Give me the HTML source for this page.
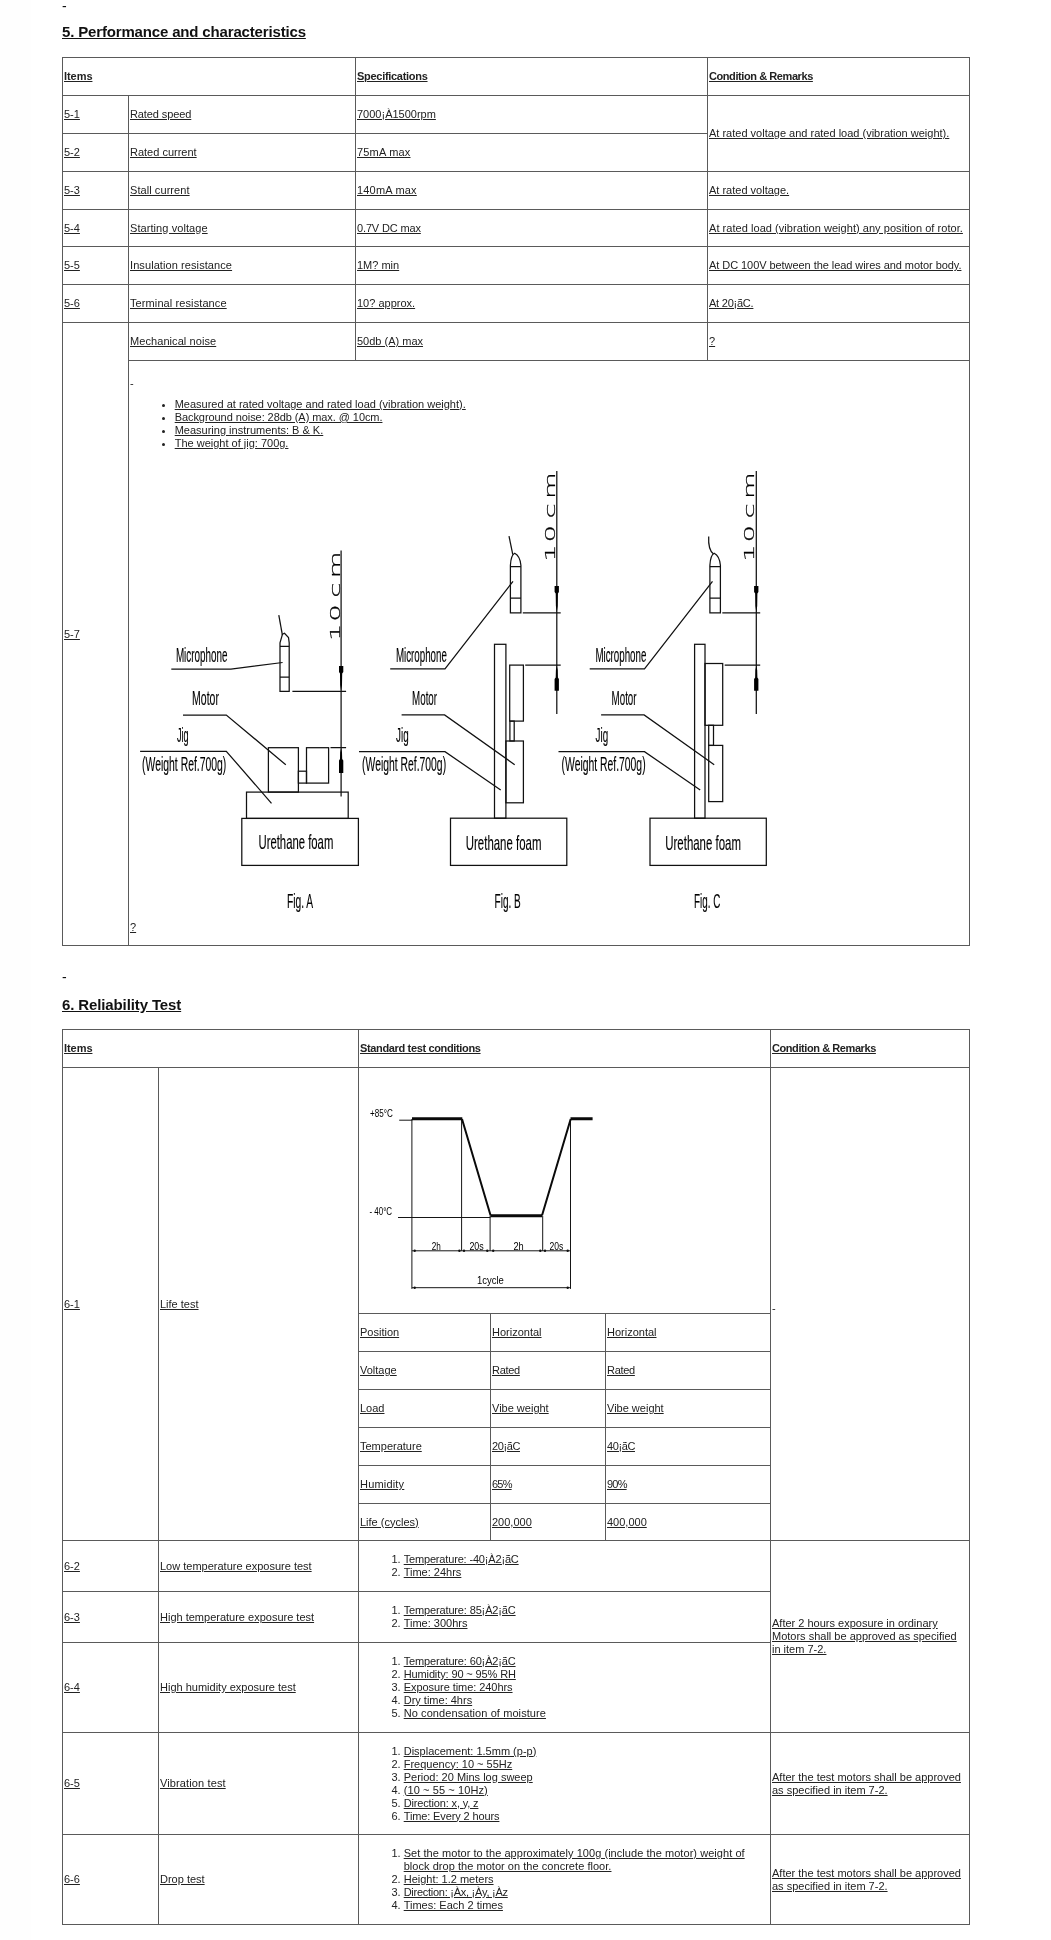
<!DOCTYPE html>
<html lang="en">
<head>
<meta charset="utf-8">
<title>Performance and characteristics</title>
<style>
html,body{margin:0;padding:0;}
body{width:1051px;height:1940px;background:#fefefe;position:relative;overflow:hidden;
 font-family:"Liberation Sans",sans-serif;font-size:11px;color:#222;line-height:13px;}
#page{position:absolute;left:31px;top:0;width:1019px;height:1940px;background:#fff;}
.abs{position:absolute;}
u,.u{text-decoration:underline;}
h3{position:absolute;margin:0;left:62px;font-size:15px;line-height:18px;font-weight:bold;color:#111;text-decoration:underline;white-space:nowrap;}
.dash{position:absolute;left:62px;font-size:14px;line-height:16px;color:#111;}
table{position:absolute;left:62px;width:908px;border-collapse:collapse;table-layout:fixed;}
td,th{border:1px solid #5a5a5a;padding:0 1px;vertical-align:middle;text-align:left;font-weight:normal;overflow:hidden;}
th{font-weight:bold;}
tr.r38{height:38px;}
ol{margin:0;padding:0 0 0 43.7px;}
ul{margin:0;padding:0 0 0 44.7px;}
</style>
</head>
<body>
<div id="page"></div>
<div id="content" style="position:absolute;left:0;top:0;width:1051px;height:1940px;will-change:transform;">
<div class="dash" style="top:-2px;">-</div>
<h3 style="top:23px;letter-spacing:-0.16px;">5. Performance and characteristics</h3>

<table id="t1" style="top:57px;">
<colgroup><col style="width:66px"><col style="width:227px"><col style="width:352px"><col style="width:262px"></colgroup>
<tr class="r38"><th colspan="2"><u style="letter-spacing:-0.06px">Items</u></th><th><u style="letter-spacing:-0.29px">Specifications</u></th><th><u style="letter-spacing:-0.42px">Condition &amp; Remarks</u></th></tr>
<tr class="r38"><td><u>5-1</u></td><td><u style="letter-spacing:-0.1px">Rated speed</u></td><td><u>7000¡À1500rpm</u></td><td rowspan="2"><u>At rated voltage and rated load (vibration weight).</u></td></tr>
<tr class="r38"><td><u>5-2</u></td><td><u>Rated current</u></td><td><u style="letter-spacing:0.19px">75mA max</u></td></tr>
<tr class="r38"><td><u>5-3</u></td><td><u style="letter-spacing:0.07px">Stall current</u></td><td><u style="letter-spacing:0.19px">140mA max</u></td><td><u>At rated voltage.</u></td></tr>
<tr style="height:37px;"><td><u>5-4</u></td><td><u style="letter-spacing:0.075px">Starting voltage</u></td><td><u style="letter-spacing:-0.145px">0.7V DC max</u></td><td><u style="letter-spacing:0.047px">At rated load (vibration weight) any position of rotor.</u></td></tr>
<tr class="r38"><td><u>5-5</u></td><td><u style="letter-spacing:0.085px">Insulation resistance</u></td><td><u>1M? min</u></td><td><u style="letter-spacing:-0.06px">At DC 100V between the lead wires and motor body.</u></td></tr>
<tr class="r38"><td><u>5-6</u></td><td><u style="letter-spacing:0.1px">Terminal resistance</u></td><td><u>10? approx.</u></td><td><u style="letter-spacing:-0.23px">At 20¡ãC.</u></td></tr>
<tr class="r38"><td rowspan="2"><u>5-7</u></td><td><u style="letter-spacing:0.075px">Mechanical noise</u></td><td><u>50db (A) max</u></td><td><u>?</u></td></tr>
<tr style="height:585px;"><td colspan="3" style="vertical-align:top;position:relative;">
<div id="c57" style="position:relative;height:584px;">
<div class="abs" style="left:0;top:16px;">-</div>
<ul class="abs" style="left:0;top:36.7px;white-space:nowrap;">
<li><u>Measured at rated voltage and rated load (vibration weight).</u></li>
<li><u style="letter-spacing:-0.07px">Background noise: 28db (A) max. @ 10cm.</u></li>
<li><u>Measuring instruments: B &amp; K.</u></li>
<li><u>The weight of jig: 700g.</u></li>
</ul>
<!--FIGS-START-->
<svg class="abs" style="left:0;top:1px;overflow:visible" width="839" height="583" viewBox="130 362 839 583">
<defs>
<g id="figBC" fill="none" stroke="#111" stroke-width="1.25">
<line x1="556.8" y1="471" x2="556.8" y2="714"/>
<path d="M510.4 612.8V565.2Q511 555 514.7 553.3Q520 556 520.9 565.2V612.8Z"/>
<path d="M510.4 566.6H520.9M510.4 598.2H520.9"/>
<path d="M522.8 612.8H560.7M525.2 665.1H560.7"/>
<path d="M390.2 668.9H445L513 581.4"/>
<path d="M401.6 714.9H444.6L514.7 764.7"/>
<path d="M359 751.7H445L500.7 789.9"/>
<rect x="450.5" y="818.2" width="116.3" height="47.2"/>
<polygon points="554.6,586 558.9,586 558.9,592 557.9,593.5 557.7,606 556.8,612.5 555.9,606 555.7,593.5 554.6,592" fill="#000" stroke="none"/>
<polygon points="556.8,665.5 557.7,670 557.9,677.5 558.9,679 558.9,690.8 554.6,690.8 554.6,679 555.7,677.5 555.9,670" fill="#000" stroke="none"/>
</g>
</defs>
<g fill="none" stroke="#111" stroke-width="1.25">
<line x1="341.1" y1="550.5" x2="341.1" y2="796.4"/>
<path d="M280 691.3V642.8L282.5 634.2L284.5 633.3L288.5 637.5L289.2 642.8V691.3Z"/>
<path d="M280 646.4H289.2M280 677H289.2"/>
<path d="M278.8 615.2L282.4 635.1"/>
<path d="M292.4 691.3H346.1M330.5 747.7H346.1"/>
<path d="M171.3 669.1H230.9L282.6 662.5"/>
<path d="M183 715H226.3L285.8 764.8"/>
<path d="M140.1 751.3H226.3L271.5 803.3"/>
<rect x="268.4" y="747.7" width="30" height="44.4"/>
<rect x="298.4" y="771.2" width="8.1" height="11.9"/>
<rect x="306.5" y="747.7" width="22.1" height="35.4"/>
<rect x="246.5" y="792.1" width="101.7" height="26.3"/>
<rect x="241.8" y="818.4" width="116.6" height="47"/>
<polygon points="339,666 343.3,666 343.3,672 342.2,673.5 342,685 341.1,691 340.2,685 340,673.5 339,672" fill="#000" stroke="none"/>
<polygon points="341.1,748 342,752.5 342.2,759 343.3,760.5 343.3,773 339,773 339,760.5 340,759 340.2,752.5" fill="#000" stroke="none"/>
</g>
<use href="#figBC"/>
<g fill="none" stroke="#111" stroke-width="1.25">
<path d="M509 536.2L512.8 554.7"/>
<rect x="494.5" y="644.3" width="11.4" height="173.9"/>
<rect x="509.7" y="665.1" width="13.7" height="56"/>
<rect x="509.9" y="721.1" width="4.3" height="19.9"/>
<rect x="505.9" y="741" width="17.5" height="61.8"/>
</g>
<use href="#figBC" transform="translate(199.5 0)"/>
<g fill="none" stroke="#111" stroke-width="1.25">
<path d="M708.7 536.5C708.2 546 709.5 551 713.5 554"/>
<rect x="694.6" y="644.3" width="10.4" height="173.9"/>
<rect x="705" y="663.5" width="17.7" height="61.8"/>
<rect x="708.7" y="725.3" width="4.8" height="20.1"/>
<rect x="708.7" y="745.4" width="14" height="56.2"/>
</g>
<g font-family="'Liberation Sans',sans-serif" font-size="20.3" fill="#000" stroke="#000" stroke-width="0.15">
<text x="175.9" y="661.7" textLength="51.6" lengthAdjust="spacingAndGlyphs">Microphone</text>
<text x="192.1" y="705.1" textLength="26.8" lengthAdjust="spacingAndGlyphs">Motor</text>
<text x="177.0" y="742.2" textLength="11.7" lengthAdjust="spacingAndGlyphs">Jig</text>
<text x="142.1" y="771.3" textLength="84.2" lengthAdjust="spacingAndGlyphs">(Weight Ref.700g)</text>
<text x="258.5" y="849.0" textLength="74.8" lengthAdjust="spacingAndGlyphs">Urethane foam</text>
<text x="287.0" y="907.7" textLength="26.2" lengthAdjust="spacingAndGlyphs">Fig. A</text>
<text x="395.9" y="661.8" textLength="51.0" lengthAdjust="spacingAndGlyphs">Microphone</text>
<text x="412.1" y="704.9" textLength="24.9" lengthAdjust="spacingAndGlyphs">Motor</text>
<text x="396.1" y="742.3" textLength="12.6" lengthAdjust="spacingAndGlyphs">Jig</text>
<text x="362.1" y="771.4" textLength="84.0" lengthAdjust="spacingAndGlyphs">(Weight Ref.700g)</text>
<text x="465.8" y="849.5" textLength="75.6" lengthAdjust="spacingAndGlyphs">Urethane foam</text>
<text x="494.6" y="907.7" textLength="26.2" lengthAdjust="spacingAndGlyphs">Fig. B</text>
<text x="595.4" y="661.8" textLength="51.0" lengthAdjust="spacingAndGlyphs">Microphone</text>
<text x="611.6" y="704.9" textLength="24.9" lengthAdjust="spacingAndGlyphs">Motor</text>
<text x="595.6" y="742.3" textLength="12.6" lengthAdjust="spacingAndGlyphs">Jig</text>
<text x="561.6" y="771.4" textLength="84.0" lengthAdjust="spacingAndGlyphs">(Weight Ref.700g)</text>
<text x="665.3" y="849.5" textLength="75.6" lengthAdjust="spacingAndGlyphs">Urethane foam</text>
<text x="694.1" y="907.7" textLength="26.2" lengthAdjust="spacingAndGlyphs">Fig. C</text>
</g>
<g font-family="'DejaVu Sans Light','DejaVu Sans',sans-serif" font-weight="200" font-size="14.5" fill="#000" stroke="#000" stroke-width="0.25">
<text transform="translate(339.6 636.2) rotate(-90) scale(1.9 1)" x="-2.5 7.6 20.3 30.5">10cm</text>
<text transform="translate(554.8 557) rotate(-90) scale(1.9 1)" x="-2.5 7.6 20.3 30.5">10cm</text>
<text transform="translate(754.3 557) rotate(-90) scale(1.9 1)" x="-2.5 7.6 20.3 30.5">10cm</text>
</g>
</svg>
<!--FIGS-END-->
<div class="abs" style="left:0;top:559.5px;"><u>?</u></div>
</div>
</td></tr>
</table>

<div class="dash" style="top:969px;">-</div>
<h3 style="top:996px;letter-spacing:-0.12px;">6. Reliability Test</h3>

<table id="t2" style="top:1029px;">
<colgroup><col style="width:96px"><col style="width:200px"><col style="width:132px"><col style="width:115px"><col style="width:165px"><col style="width:199px"></colgroup>
<tr class="r38"><th colspan="2"><u style="letter-spacing:-0.06px">Items</u></th><th colspan="3"><u style="letter-spacing:-0.35px">Standard test conditions</u></th><th><u style="letter-spacing:-0.42px">Condition &amp; Remarks</u></th></tr>
<tr style="height:246px;"><td rowspan="7"><u>6-1</u></td><td rowspan="7"><u>Life test</u></td><td colspan="3" style="vertical-align:top;padding:0;"><div id="chart" style="position:relative;height:245px;"><!--CHART-START-->
<svg class="abs" style="left:0;top:0;overflow:visible" width="411" height="245" viewBox="359 1068 411 245">
<g fill="none" stroke="#151515" stroke-width="1">
<path d="M399.2 1120.2H412.3M398 1217.5H490.4"/>
<path d="M411.9 1119V1288.9M461.6 1119V1250.8M490.1 1216V1250.8M542.7 1216V1250.8M570.5 1119V1288.9"/>
<path d="M411.9 1250.8H570.5M411.9 1287.7H570.5"/>
</g>
<g fill="none" stroke="#0a0a0a">
<path d="M412 1118.8H462.3M570.5 1118.8H592.6M490.4 1215.8H542" stroke-width="2.9"/>
<path d="M462 1119L490.6 1215.5M542 1215.5L570.7 1119" stroke-width="2"/>
</g>
<g fill="#111" stroke="none">
<circle cx="414.7" cy="1250.8" r="1.2"/><circle cx="459.4" cy="1250.8" r="1.2"/><circle cx="464" cy="1250.8" r="1.2"/><circle cx="487.3" cy="1250.8" r="1.2"/>
<circle cx="493.2" cy="1250.8" r="1.2"/><circle cx="540.3" cy="1250.8" r="1.2"/><circle cx="545" cy="1250.8" r="1.2"/><circle cx="567.7" cy="1250.8" r="1.2"/>
<circle cx="414.7" cy="1287.7" r="1.2"/><circle cx="567.7" cy="1287.7" r="1.2"/>
</g>
<g font-family="'Liberation Sans',sans-serif" font-size="11" fill="#000" stroke="none">
<text x="370" y="1117.4" textLength="22.8" lengthAdjust="spacingAndGlyphs">+85°C</text>
<text x="369.5" y="1214.6" textLength="22.6" lengthAdjust="spacingAndGlyphs">- 40°C</text>
<text x="431.8" y="1249.6" textLength="9.1" lengthAdjust="spacingAndGlyphs">2h</text>
<text x="469.4" y="1249.6" textLength="14.3" lengthAdjust="spacingAndGlyphs">20s</text>
<text x="513.4" y="1249.6" textLength="10.3" lengthAdjust="spacingAndGlyphs">2h</text>
<text x="549.6" y="1249.6" textLength="13.8" lengthAdjust="spacingAndGlyphs">20s</text>
<text x="477" y="1283.5" textLength="26.9" lengthAdjust="spacingAndGlyphs">1cycle</text>
</g>
</svg>
<!--CHART-END--></div></td><td rowspan="7"><span style="position:relative;top:4px;">-</span></td></tr>
<tr class="r38"><td><u>Position</u></td><td><u>Horizontal</u></td><td><u>Horizontal</u></td></tr>
<tr class="r38"><td><u>Voltage</u></td><td><u style="letter-spacing:-0.3px">Rated</u></td><td><u style="letter-spacing:-0.3px">Rated</u></td></tr>
<tr class="r38"><td><u>Load</u></td><td><u>Vibe weight</u></td><td><u>Vibe weight</u></td></tr>
<tr class="r38"><td><u>Temperature</u></td><td><u style="letter-spacing:-0.4px">20¡ãC</u></td><td><u style="letter-spacing:-0.4px">40¡ãC</u></td></tr>
<tr class="r38"><td><u style="letter-spacing:0.19px">Humidity</u></td><td><u style="letter-spacing:-0.8px">65%</u></td><td><u style="letter-spacing:-0.8px">90%</u></td></tr>
<tr style="height:37px;"><td><u>Life (cycles)</u></td><td><u>200,000</u></td><td><u>400,000</u></td></tr>
<tr style="height:51px;"><td><u>6-2</u></td><td><u>Low temperature exposure test</u></td><td colspan="3"><ol><li><u style="letter-spacing:-0.167px">Temperature: -40¡À2¡ãC</u></li><li><u>Time: 24hrs</u></li></ol></td><td rowspan="3"><u>After 2 hours exposure in ordinary</u><br><u>Motors shall be approved as specified</u><br><u>in item 7-2.</u></td></tr>
<tr style="height:51px;"><td><u>6-3</u></td><td><u>High temperature exposure test</u></td><td colspan="3"><ol><li><u style="letter-spacing:-0.145px">Temperature: 85¡À2¡ãC</u></li><li><u>Time: 300hrs</u></li></ol></td></tr>
<tr style="height:90px;"><td><u>6-4</u></td><td><u>High humidity exposure test</u></td><td colspan="3"><ol><li><u style="letter-spacing:-0.145px">Temperature: 60¡À2¡ãC</u></li><li><u style="letter-spacing:-0.12px">Humidity: 90 ~ 95% RH</u></li><li><u style="letter-spacing:-0.057px">Exposure time: 240hrs</u></li><li><u>Dry time: 4hrs</u></li><li><u style="letter-spacing:0.085px">No condensation of moisture</u></li></ol></td></tr>
<tr style="height:102px;"><td><u>6-5</u></td><td><u style="letter-spacing:0.12px">Vibration test</u></td><td colspan="3"><ol><li><u>Displacement: 1.5mm (p-p)</u></li><li><u>Frequency: 10 ~ 55Hz</u></li><li><u>Period: 20 Mins log sweep</u></li><li><u style="letter-spacing:0.1px">(10 ~ 55 ~ 10Hz)</u></li><li><u style="letter-spacing:-0.15px">Direction: x, y, z</u></li><li><u style="letter-spacing:-0.12px">Time: Every 2 hours</u></li></ol></td><td><u>After the test motors shall be approved</u><br><u>as specified in item 7-2.</u></td></tr>
<tr style="height:90px;"><td><u>6-6</u></td><td><u>Drop test</u></td><td colspan="3"><ol><li><u style="letter-spacing:0.05px">Set the motor to the approximately 100g (include the motor) weight of</u><br><u style="letter-spacing:0.04px">block drop the motor on the concrete floor.</u></li><li><u>Height: 1.2 meters</u></li><li><u style="letter-spacing:-0.265px">Direction: ¡Àx, ¡Ày, ¡Àz</u></li><li><u>Times: Each 2 times</u></li></ol></td><td><u>After the test motors shall be approved</u><br><u>as specified in item 7-2.</u></td></tr>
</table>
</div>
</body>
</html>
